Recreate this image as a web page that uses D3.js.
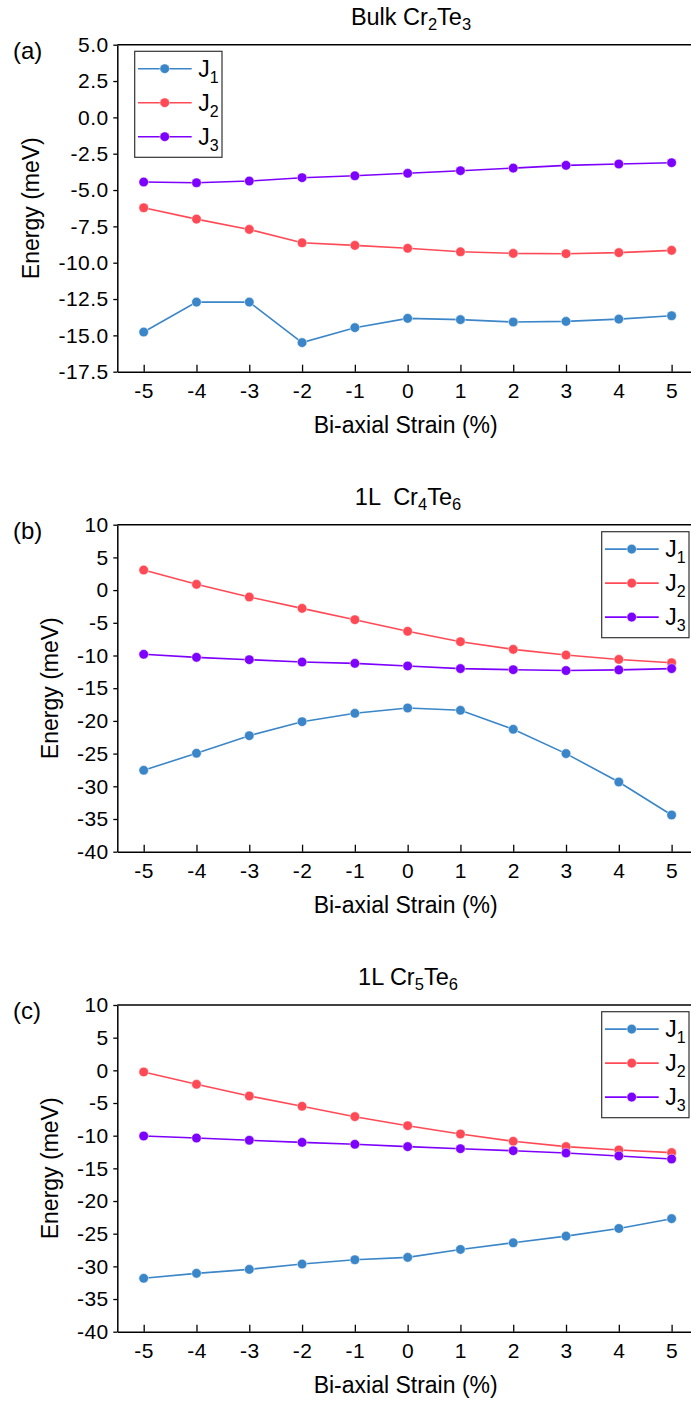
<!DOCTYPE html>
<html>
<head>
<meta charset="utf-8">
<script src="https://cdn.jsdelivr.net/npm/d3@7"></script>
<style>
  body { margin: 0; background: #fff; }
  text { font-family: "Liberation Sans", Arial, sans-serif; fill: #000; }
</style>
</head>
<body>
<svg id="chart" width="691" height="1401"></svg>
<script>
// Bi-axial strain (%) on the x axis
const strain = [-5, -4, -3, -2, -1, 0, 1, 2, 3, 4, 5];
const seriesNames = ["J1", "J2", "J3"];

// Exchange constants (meV), bulk Cr2Te3
const bulkJ1 = [-14.77, -12.71, -12.71, -15.50, -14.47, -13.83, -13.92, -14.08, -14.04, -13.88, -13.65];
const bulkJ2 = [-6.22, -7.00, -7.71, -8.63, -8.81, -9.01, -9.25, -9.36, -9.38, -9.31, -9.15];
const bulkJ3 = [-4.45, -4.50, -4.38, -4.15, -4.02, -3.85, -3.67, -3.49, -3.30, -3.21, -3.12];

// Exchange constants (meV), monolayer Cr4Te6
const cr4J1 = [-27.55, -24.95, -22.26, -20.12, -18.84, -18.03, -18.38, -21.28, -25.00, -29.34, -34.39];
const cr4J2 = [3.07, 0.88, -1.06, -2.79, -4.53, -6.30, -7.89, -9.06, -9.93, -10.60, -11.10];
const cr4J3 = [-9.82, -10.28, -10.64, -11.00, -11.20, -11.60, -12.00, -12.17, -12.30, -12.20, -12.00];

// Exchange constants (meV), monolayer Cr5Te6
const cr5J1 = [-31.83, -31.07, -30.46, -29.65, -28.99, -28.63, -27.41, -26.39, -25.37, -24.20, -22.70];
const cr5J2 = [-0.25, -2.14, -3.93, -5.50, -7.09, -8.47, -9.74, -10.86, -11.68, -12.19, -12.60];
const cr5J3 = [-10.05, -10.36, -10.70, -11.02, -11.32, -11.68, -11.99, -12.30, -12.65, -13.10, -13.57];

// Y tick values
const bulkTicks = [-17.5, -15, -12.5, -10, -7.5, -5, -2.5, 0, 2.5, 5];
const monoTicks = [-40, -35, -30, -25, -20, -15, -10, -5, 0, 5, 10];

const colors = ["#3a86c8", "#ff4a56", "#7d00ff"];

const svg = d3.select("#chart");
svg.append("rect").attr("width", 691).attr("height", 1401).attr("fill", "#fff");

const plotLeft = 117.3, plotRight = 698;
const x = d3.scaleLinear().domain([-5.5, 5.5]).range([plotLeft, plotRight]);

// Writes text with subscript runs: parts = [[string, isSub], ...]
function richText(sel, parts, mainSize, subSize, subShift) {
  parts.forEach(([s, sub], i) => {
    const prevSub = i > 0 && parts[i - 1][1];
    const t = sel.append("tspan").text(s)
      .style("font-size", (sub ? subSize : mainSize) + "px");
    if (sub && !prevSub) t.attr("dy", subShift);
    else if (!sub && prevSub) t.attr("dy", -subShift);
  });
}

function drawPanel(cfg) {
  const g = svg.append("g");
  const y = d3.scaleLinear().domain(cfg.yDomain).range([cfg.bottom, cfg.top]);

  // top frame line
  g.append("line")
    .attr("x1", plotLeft).attr("x2", plotRight)
    .attr("y1", cfg.top).attr("y2", cfg.top)
    .attr("stroke", "#000").attr("stroke-width", 1.5);

  // x axis
  const xAxis = g.append("g")
    .attr("transform", `translate(0,${cfg.bottom})`)
    .call(d3.axisBottom(x).tickValues(strain).tickFormat(d => String(d))
      .tickSizeInner(-7).tickSizeOuter(0).tickPadding(11));
  // y axis
  const yAxis = g.append("g")
    .attr("transform", `translate(${plotLeft},0)`)
    .call(d3.axisLeft(y).tickValues(cfg.yTicks).tickFormat(cfg.fmt)
      .tickSizeInner(4).tickSizeOuter(0).tickPadding(5));

  [xAxis, yAxis].forEach(a => {
    a.attr("font-size", null).attr("font-family", null);
    a.select(".domain").attr("stroke", "#000").attr("stroke-width", 1.5);
    a.selectAll(".tick line").attr("stroke", "#000").attr("stroke-width", 1.3);
    a.selectAll(".tick text")
      .style("font-size", "21px").style("letter-spacing", "0.5px")
      .attr("fill", "#000");
  });
  // trailing letter-spacing shifts end-anchored labels; pull them back
  yAxis.selectAll(".tick text").attr("dx", "0.5px");

  // axis titles
  g.append("text")
    .attr("x", (plotLeft + plotRight) / 2 - 2).attr("y", cfg.bottom + 61)
    .attr("text-anchor", "middle").style("font-size", "23px")
    .text("Bi-axial Strain (%)");
  g.append("text")
    .attr("transform", `translate(${cfg.yTitleX},${(cfg.top + cfg.bottom) / 2}) rotate(-90)`)
    .attr("text-anchor", "middle").attr("dy", "0.35em").style("font-size", "23px")
    .text("Energy (meV)");

  // panel title
  const title = g.append("text")
    .attr("x", cfg.titleX).attr("y", cfg.top - 19.7)
    .attr("text-anchor", "middle")
    .style("white-space", "pre");
  richText(title, cfg.title, 23.5, 16.5, 5);

  // panel label
  g.append("text").attr("x", 13).attr("y", cfg.top + 14)
    .style("font-size", "24px").text(cfg.label);

  // series lines and markers
  const line = d3.line().x((d, i) => x(strain[i])).y(d => y(d));
  cfg.series.forEach((vals, k) => {
    g.append("path").datum(vals)
      .attr("d", line).attr("fill", "none")
      .attr("stroke", colors[k]).attr("stroke-width", 1.6);
    g.selectAll(null).data(vals).enter().append("circle")
      .attr("cx", (d, i) => x(strain[i])).attr("cy", d => y(d))
      .attr("r", 4.8).attr("fill", colors[k])
      .attr("stroke", "#fff").attr("stroke-width", 0.5);
  });

  // legend
  const lx = cfg.legendX, ly = cfg.top + cfg.legendDY;
  const lg = g.append("g");
  lg.append("rect").attr("x", lx).attr("y", ly).attr("width", 87.3).attr("height", 106)
    .attr("fill", "#fff").attr("stroke", "#333").attr("stroke-width", 1.2);
  seriesNames.forEach((name, k) => {
    const ry = ly + 17.4 + k * 34;
    lg.append("line").attr("x1", lx + 3.3).attr("x2", lx + 57)
      .attr("y1", ry).attr("y2", ry)
      .attr("stroke", colors[k]).attr("stroke-width", 1.6);
    lg.append("circle").attr("cx", lx + 30).attr("cy", ry).attr("r", 4.8)
      .attr("fill", colors[k]).attr("stroke", "#fff").attr("stroke-width", 0.5);
    const t = lg.append("text").attr("x", lx + 63.5).attr("y", ry + 8);
    richText(t, [[name[0], false], [name.slice(1), true]], 23, 16, 6);
  });
}

drawPanel({
  top: 44.7, bottom: 371.7, yDomain: [-17.5, 5], yTicks: bulkTicks,
  fmt: d => d.toFixed(1), yTitleX: 31, titleX: 411,
  title: [["Bulk Cr", false], ["2", true], ["Te", false], ["3", true]],
  label: "(a)", series: [bulkJ1, bulkJ2, bulkJ3],
  legendX: 134.7, legendDY: 6.6
});
drawPanel({
  top: 524.7, bottom: 851.7, yDomain: [-40, 10], yTicks: monoTicks,
  fmt: d => String(d), yTitleX: 50, titleX: 408,
  title: [["1L  Cr", false], ["4", true], ["Te", false], ["6", true]],
  label: "(b)", series: [cr4J1, cr4J2, cr4J3],
  legendX: 601.7, legendDY: 7
});
drawPanel({
  top: 1005, bottom: 1331.7, yDomain: [-40, 10], yTicks: monoTicks,
  fmt: d => String(d), yTitleX: 50, titleX: 408,
  title: [["1L Cr", false], ["5", true], ["Te", false], ["6", true]],
  label: "(c)", series: [cr5J1, cr5J2, cr5J3],
  legendX: 601.7, legendDY: 6.7
});
</script>
</body>
</html>
